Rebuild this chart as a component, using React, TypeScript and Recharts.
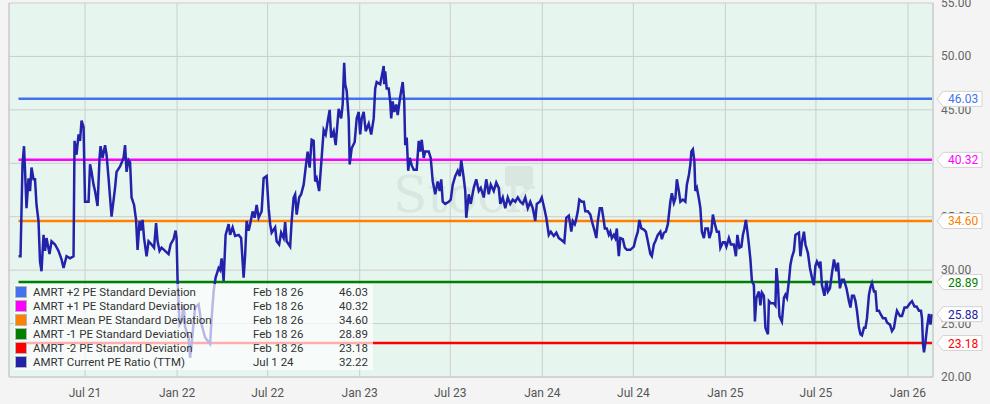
import React from "react";
import {
  CartesianGrid,
  Line,
  LineChart,
  ReferenceLine,
  XAxis,
  YAxis,
} from "recharts";

// AMRT current PE ratio (TTM), month-day per year
const dates2021 = [
  "02-18", "02-22", "02-26", "03-01", "03-03", "03-06", "03-10", "03-13", "03-16", "03-20",
  "03-23", "03-26", "03-30", "04-02", "04-05", "04-09", "04-12", "04-15", "04-21", "04-25",
  "05-02", "05-09", "05-15", "05-19", "05-25", "06-01", "06-08", "06-10", "06-14", "06-18",
  "06-21", "06-24", "06-28", "07-01", "07-08", "07-11", "07-14", "07-18", "07-21", "07-26",
  "07-30", "08-01", "08-05", "08-10", "08-13", "08-17", "08-20", "08-23", "08-30", "09-02",
  "09-09", "09-16", "09-19", "09-22", "09-26", "09-29", "10-02", "10-07", "10-11", "10-14",
  "10-18", "10-20", "10-24", "10-27", "11-01", "11-05", "11-11", "11-16", "11-20", "11-23",
  "11-27", "12-01", "12-08", "12-15", "12-19", "12-25", "12-29", "12-31",
];
const pe2021 = [
  31.3, 31.3, 39.9, 41.6, 39.4, 35.8, 38.6, 37.4, 39.6, 38.5,
  38.5, 36.1, 34.6, 30.8, 29.9, 33.3, 31.8, 33.0, 31.5, 32.7,
  32.4, 31.8, 31.0, 30.2, 31.3, 31.1, 31.3, 42.1, 40.8, 42.7,
  42.1, 44.0, 43.4, 36.4, 36.4, 39.9, 39.2, 38.0, 37.4, 36.0,
  40.5, 41.6, 40.5, 41.7, 40.8, 38.6, 36.8, 35.0, 37.7, 39.2,
  39.7, 40.5, 41.7, 39.2, 40.3, 40.1, 36.8, 36.1, 34.7, 31.9,
  34.6, 33.7, 34.7, 33.0, 31.3, 32.7, 32.4, 32.1, 34.4, 32.7,
  31.8, 32.1, 31.8, 31.5, 32.4, 32.9, 33.7, 33.0,
];

const dates2022 = [
  "01-02", "01-06", "01-10", "01-14", "01-17", "01-24", "01-27", "01-30", "02-06", "02-13",
  "02-19", "02-26", "03-08", "03-11", "03-15", "03-19", "03-25", "03-28", "03-31", "04-04",
  "04-08", "04-14", "04-17", "04-22", "04-27", "05-04", "05-09", "05-12", "05-14", "05-17",
  "05-20", "05-24", "05-27", "06-01", "06-05", "06-09", "06-13", "06-16", "06-19", "06-23",
  "06-29", "07-03", "07-06", "07-09", "07-16", "07-19", "07-24", "07-28", "08-02", "08-05",
  "08-08", "08-15", "08-18", "08-22", "08-25", "08-28", "09-02", "09-06", "09-11", "09-15",
  "09-19", "09-23", "09-27", "10-01", "10-04", "10-07", "10-12", "10-16", "10-21", "10-25",
  "10-29", "11-02", "11-05", "11-10", "11-14", "11-20", "11-25", "11-28", "12-01", "12-03",
  "12-06", "12-10", "12-12", "12-16", "12-22", "12-26", "12-30",
];
const pe2022 = [
  29.0, 24.9, 25.2, 26.8, 24.7, 23.7, 21.8, 23.1, 26.5, 26.8,
  24.9, 23.7, 23.1, 25.5, 28.0, 29.3, 30.2, 30.0, 31.1, 29.0,
  33.3, 34.3, 33.3, 34.0, 33.2, 33.3, 33.0, 30.8, 29.3, 31.4,
  34.6, 33.7, 34.3, 35.5, 34.9, 36.1, 34.9, 35.2, 35.5, 38.6,
  38.8, 35.8, 34.3, 33.5, 34.0, 32.7, 32.4, 33.5, 33.0, 34.5,
  32.7, 32.2, 34.6, 36.8, 37.1, 35.2, 36.8, 37.1, 38.0, 39.6,
  41.1, 39.6, 42.2, 42.1, 38.3, 38.6, 37.4, 39.9, 43.1, 42.7,
  43.9, 45.0, 42.4, 43.0, 41.7, 45.1, 44.2, 45.5, 49.4, 47.4,
  46.8, 44.2, 39.9, 41.4, 42.0, 44.2, 44.8,
];

const dates2023 = [
  "01-02", "01-05", "01-09", "01-13", "01-19", "01-24", "01-29", "02-01", "02-04", "02-11",
  "02-18", "02-19", "02-21", "02-24", "02-28", "03-03", "03-05", "03-08", "03-11", "03-15",
  "03-18", "03-22", "03-25", "03-28", "03-31", "04-02", "04-05", "04-08", "04-11", "04-15",
  "04-19", "04-25", "04-29", "05-02", "05-05", "05-09", "05-12", "05-19", "05-23", "05-27",
  "06-01", "06-06", "06-10", "06-13", "06-16", "06-21", "06-28", "07-02", "07-06", "07-11",
  "07-16", "07-20", "07-23", "07-28", "07-31", "08-02", "08-07", "08-11", "08-17", "08-22",
  "08-27", "08-31", "09-06", "09-11", "09-16", "09-20", "09-26", "10-01", "10-06", "10-09",
  "10-14", "10-19", "10-24", "10-29", "11-03", "11-08", "11-13", "11-18", "11-23", "11-28",
  "12-03", "12-08", "12-13", "12-18", "12-21", "12-27", "12-31",
];
const pe2023 = [
  42.7, 44.2, 44.8, 43.0, 43.7, 42.7, 44.2, 47.0, 47.6, 47.4,
  49.1, 47.4, 48.6, 47.0, 47.0, 45.8, 44.2, 45.8, 44.8, 45.5,
  44.5, 45.9, 46.8, 47.6, 45.8, 41.7, 42.4, 39.3, 40.5, 39.8,
  39.4, 39.4, 42.1, 41.1, 42.2, 40.5, 41.1, 41.1, 40.5, 38.3,
  37.1, 38.3, 37.4, 38.5, 36.4, 36.2, 36.4, 36.6, 38.0, 38.8,
  39.3, 38.8, 40.3, 38.6, 37.4, 34.9, 37.1, 36.2, 37.7, 38.5,
  37.4, 37.7, 36.8, 38.5, 37.1, 38.0, 37.4, 38.2, 37.7, 36.2,
  36.8, 35.8, 36.8, 36.2, 36.6, 36.4, 36.8, 36.4, 36.2, 36.8,
  35.8, 36.4, 35.8, 34.6, 36.2, 36.4, 36.8,
];

const dates2024 = [
  "01-05", "01-09", "01-14", "01-18", "01-24", "01-29", "02-03", "02-09", "02-14", "02-18",
  "02-23", "02-28", "03-02", "03-06", "03-08", "03-12", "03-15", "03-20", "03-24", "03-27",
  "04-01", "04-06", "04-09", "04-15", "04-18", "04-21", "04-25", "04-29", "05-03", "05-05",
  "05-09", "05-13", "05-16", "05-19", "05-23", "05-26", "05-29", "05-31", "06-02", "06-05",
  "06-10", "06-14", "06-18", "06-25", "07-02", "07-06", "07-10", "07-13", "07-17", "07-22",
  "07-26", "07-30", "08-04", "08-07", "08-11", "08-14", "08-19", "08-24", "08-27", "08-31",
  "09-04", "09-08", "09-13", "09-16", "09-20", "09-23", "09-26", "09-30", "10-03", "10-08",
  "10-13", "10-16", "10-20", "10-23", "10-25", "10-28", "10-31", "11-02", "11-05", "11-09",
  "11-12", "11-15", "11-19", "11-22", "11-27", "11-30", "12-04", "12-07", "12-11", "12-15",
  "12-19", "12-22", "12-27", "12-31",
];
const pe2024 = [
  35.8, 34.9, 33.3, 33.6, 33.2, 33.5, 33.0, 32.8, 32.6, 34.9,
  35.1, 33.6, 34.6, 34.3, 34.6, 35.5, 36.6, 36.4, 36.4, 35.5,
  35.5, 35.2, 34.6, 33.6, 33.0, 34.6, 35.8, 35.8, 34.6, 33.9,
  33.9, 33.3, 33.6, 33.0, 33.3, 33.0, 33.9, 32.4, 31.3, 33.0,
  32.9, 32.1, 31.9, 31.9, 32.2, 33.0, 33.6, 34.7, 33.9, 33.8,
  33.6, 32.7, 31.5, 31.3, 32.4, 32.7, 33.3, 33.6, 32.9, 33.5,
  33.6, 34.3, 36.4, 37.2, 36.3, 36.7, 38.5, 37.4, 36.4, 36.6,
  36.4, 38.0, 38.9, 39.9, 41.1, 41.3, 40.2, 37.4, 37.7, 36.7,
  35.8, 33.6, 33.0, 33.9, 33.9, 33.0, 33.6, 35.2, 34.3, 33.6,
  33.6, 32.1, 32.6, 32.6,
];

const dates2025 = [
  "01-03", "01-08", "01-12", "01-18", "01-22", "01-25", "01-29", "02-02", "02-05", "02-08",
  "02-11", "02-14", "02-17", "02-20", "02-23", "02-27", "03-01", "03-04", "03-09", "03-12",
  "03-15", "03-19", "03-22", "03-27", "03-29", "04-02", "04-08", "04-11", "04-13", "04-16",
  "04-19", "04-24", "04-28", "05-01", "05-04", "05-08", "05-11", "05-14", "05-18", "05-21",
  "05-28", "05-31", "06-03", "06-07", "06-10", "06-15", "06-19", "06-23", "06-27", "06-30",
  "07-03", "07-07", "07-10", "07-13", "07-18", "07-22", "07-25", "07-29", "08-02", "08-06",
  "08-11", "08-14", "08-18", "08-22", "08-26", "08-31", "09-05", "09-08", "09-11", "09-15",
  "09-18", "09-21", "09-25", "09-28", "10-01", "10-05", "10-08", "10-11", "10-15", "10-18",
  "10-21", "10-25", "10-28", "10-31", "11-04", "11-07", "11-12", "11-17", "11-20", "11-26",
  "11-30", "12-04", "12-07", "12-10", "12-16", "12-20", "12-25", "12-30",
];
const pe2025 = [
  32.2, 33.0, 32.4, 32.4, 31.3, 33.3, 32.1, 32.2, 33.3, 33.9,
  34.7, 33.6, 32.4, 31.0, 29.0, 28.6, 25.2, 27.4, 28.0, 26.7,
  27.9, 27.6, 24.6, 24.0, 27.1, 26.9, 26.9, 26.7, 30.2, 28.6,
  25.7, 25.2, 27.4, 27.7, 27.4, 29.0, 30.5, 31.2, 31.8, 33.3,
  33.5, 31.3, 32.6, 33.6, 32.4, 31.6, 30.2, 29.3, 28.6, 30.4,
  30.8, 30.4, 30.8, 28.6, 27.6, 29.0, 28.0, 28.3, 29.7, 31.0,
  29.9, 30.7, 28.3, 29.1, 29.1, 28.3, 27.1, 26.5, 27.6, 27.6,
  27.1, 26.2, 24.6, 24.0, 23.9, 24.6, 24.6, 25.5, 27.7, 28.4,
  28.8, 28.0, 28.0, 26.2, 26.2, 25.9, 25.5, 25.5, 25.1, 24.9,
  24.3, 24.6, 25.5, 26.2, 25.7, 25.7, 26.5, 26.5,
];

const dates2026 = [
  "01-05", "01-09", "01-14", "01-18", "01-23", "01-27", "01-29", "01-31", "02-02", "02-05",
  "02-08", "02-12", "02-15", "02-18",
];
const pe2026 = [
  26.9, 27.1, 26.6, 26.6, 26.2, 26.2, 25.5, 23.1, 22.3, 23.3,
  24.6, 25.9, 24.9, 25.88,
];

// PE standard deviation bands (as of Feb 18 26)
const bandNames = [
  "AMRT +2 PE Standard Deviation",
  "AMRT +1 PE Standard Deviation",
  "AMRT Mean PE Standard Deviation",
  "AMRT -1 PE Standard Deviation",
  "AMRT -2 PE Standard Deviation",
];
const bandValues = [46.03, 40.32, 34.6, 28.89, 23.18];
const bandColors = ["#4272f0", "#ff00ff", "#ff8000", "#008000", "#ff0000"];
const bandStart = "2021-02-18";
const bandEnd = "2026-02-18";

const currentName = "AMRT Current PE Ratio (TTM)";
const currentValue = 25.88;
const currentColor = "#2222aa";

const legendDates = ["Feb 18 26", "Feb 18 26", "Feb 18 26", "Feb 18 26", "Feb 18 26", "Jul 1 24"];
const legendValues = ["46.03", "40.32", "34.60", "28.89", "23.18", "32.22"];

const tickDates = [
  "2021-07-01", "2022-01-01", "2022-07-01", "2023-01-01", "2023-07-01",
  "2024-01-01", "2024-07-01", "2025-01-01", "2025-07-01", "2026-01-01",
];
const tickLabels = [
  "Jul 21", "Jan 22", "Jul 22", "Jan 23", "Jul 23",
  "Jan 24", "Jul 24", "Jan 25", "Jul 25", "Jan 26",
];
const yTicks = [20, 25, 30, 35, 40, 45, 50, 55];

const toTs = (iso: string) => {
  const [y, m, d] = iso.split("-").map(Number);
  return Date.UTC(y, m - 1, d);
};

const xDomain = [toTs("2021-01-30"), toTs("2026-02-20")];
const tickTs = tickDates.map(toTs);

const yearly: [number, string[], number[]][] = [
  [2021, dates2021, pe2021],
  [2022, dates2022, pe2022],
  [2023, dates2023, pe2023],
  [2024, dates2024, pe2024],
  [2025, dates2025, pe2025],
  [2026, dates2026, pe2026],
];

const data = yearly.flatMap(([y, days, vals]) =>
  days.map((md, i) => ({ t: toTs(`${y}-${md}`), pe: vals[i] }))
);

const FONT = "Roboto, 'Liberation Sans', sans-serif";
const W = 990;
const H = 404;
const MARGIN = { top: 3, right: 0, bottom: 0, left: 9 };
const Y_AXIS_W = 57;
const X_AXIS_H = 27;

function XTick({ x, y, payload }: any) {
  const i = tickTs.indexOf(payload.value);
  return (
    <text x={x} y={y + 12} textAnchor="middle" fill="#555" fontSize={12}>
      {tickLabels[i]}
    </text>
  );
}

function YTick({ x, y, payload }: any) {
  return (
    <text x={x} y={y + 4} textAnchor="start" fill="#666" fontSize={12}>
      {Number(payload.value).toFixed(2)}
    </text>
  );
}

function ValueBadge({ viewBox, text, color }: any) {
  if (!viewBox) return null;
  const x = viewBox.x + viewBox.width + 5;
  const y = viewBox.y;
  return (
    <g>
      <path
        d={`M${x},${y} L${x + 6},${y - 7.5} H${x + 45} V${y + 7.5} H${x + 6} Z`}
        fill="#fff"
        stroke="#d4d4d4"
      />
      <text x={x + 11} y={y + 4.5} fill={color} fontSize={12}>
        {text}
      </text>
    </g>
  );
}

function Watermark() {
  return (
    <g opacity={0.4} pointerEvents="none">
      <text
        x={393}
        y={212}
        fontSize={50}
        fontFamily="'DejaVu Serif', serif"
        fill="#c9d3cf"
      >
        Stock
      </text>
      <rect x={505} y={166} width={28} height={20} rx={3} fill="#c9d3cf" />
    </g>
  );
}

function Legend() {
  const rows = [
    ...bandNames.map((n, i) => ({ name: n, color: bandColors[i] })),
    { name: currentName, color: currentColor },
  ];
  return (
    <div
      style={{
        position: "absolute",
        left: 14,
        top: 284,
        width: 359,
        height: 86,
        background: "rgba(255,255,255,0.68)",
        fontFamily: FONT,
        fontSize: 11.5,
        color: "#333",
      }}
    >
      {rows.map((r, i) => (
        <div
          key={r.name}
          style={{
            position: "absolute",
            left: 0,
            top: 1 + i * 13.9,
            width: 359,
            height: 14,
            lineHeight: "14px",
            whiteSpace: "nowrap",
          }}
        >
          <span
            style={{
              position: "absolute",
              left: 1,
              top: 1,
              width: 10,
              height: 10,
              background: r.color,
              border: "1px solid #b5b5b5",
            }}
          />
          <span style={{ position: "absolute", left: 19 }}>{r.name}</span>
          <span style={{ position: "absolute", left: 239 }}>{legendDates[i]}</span>
          <span style={{ position: "absolute", left: 325 }}>{legendValues[i]}</span>
        </div>
      ))}
    </div>
  );
}

const seg = (v: number) =>
  [
    { x: toTs(bandStart), y: v },
    { x: toTs(bandEnd), y: v },
  ] as any;

export default function App() {
  return (
    <div
      style={{
        position: "absolute",
        left: 0,
        top: 0,
        width: W,
        height: H,
        background: "#f4f4f4",
        fontFamily: FONT,
        overflow: "hidden",
      }}
    >
      <LineChart
        width={W}
        height={H}
        data={data}
        margin={MARGIN}
        style={{ fontFamily: FONT }}
      >
        <CartesianGrid fill="#e6f5ee" fillOpacity={1} stroke="#cdcdcd" />
        <XAxis
          dataKey="t"
          type="number"
          domain={xDomain}
          ticks={tickTs}
          interval={0}
          tick={<XTick />}
          tickLine={false}
          axisLine={{ stroke: "#c8c8c8" }}
          height={X_AXIS_H}
          allowDataOverflow
        />
        <YAxis
          orientation="right"
          type="number"
          domain={[20, 55]}
          ticks={yTicks}
          interval={0}
          tick={<YTick />}
          tickLine={false}
          axisLine={{ stroke: "#c8c8c8" }}
          width={Y_AXIS_W}
          allowDataOverflow
        />
        <ReferenceLine x={xDomain[0]} stroke="#c8c8c8" />
        <Watermark />
        {bandValues.map((v, i) => (
          <ReferenceLine
            key={bandNames[i]}
            segment={seg(v)}
            stroke={bandColors[i]}
            strokeWidth={2.5}
          />
        ))}
        <Line
          dataKey="pe"
          type="linear"
          stroke={currentColor}
          strokeWidth={2.5}
          dot={false}
          activeDot={false}
          isAnimationActive={false}
        />
      </LineChart>

      {/* value badges on top of the axis labels */}
      <div style={{ position: "absolute", left: 0, top: 0, pointerEvents: "none" }}>
        <LineChart
          width={W}
          height={H}
          data={data}
          margin={{
            top: MARGIN.top,
            right: MARGIN.right + Y_AXIS_W,
            bottom: MARGIN.bottom + X_AXIS_H,
            left: MARGIN.left,
          }}
          style={{ fontFamily: FONT }}
        >
          <XAxis dataKey="t" type="number" domain={xDomain} hide allowDataOverflow />
          <YAxis type="number" domain={[20, 55]} hide allowDataOverflow />
          {bandValues.map((v, i) => (
            <ReferenceLine
              key={bandNames[i]}
              segment={seg(v)}
              stroke="none"
              ifOverflow="visible"
              label={<ValueBadge text={v.toFixed(2)} color={bandColors[i]} />}
            />
          ))}
          <ReferenceLine
            segment={seg(currentValue)}
            stroke="none"
            ifOverflow="visible"
            label={<ValueBadge text={currentValue.toFixed(2)} color={currentColor} />}
          />
        </LineChart>
      </div>

      <Legend />
    </div>
  );
}
